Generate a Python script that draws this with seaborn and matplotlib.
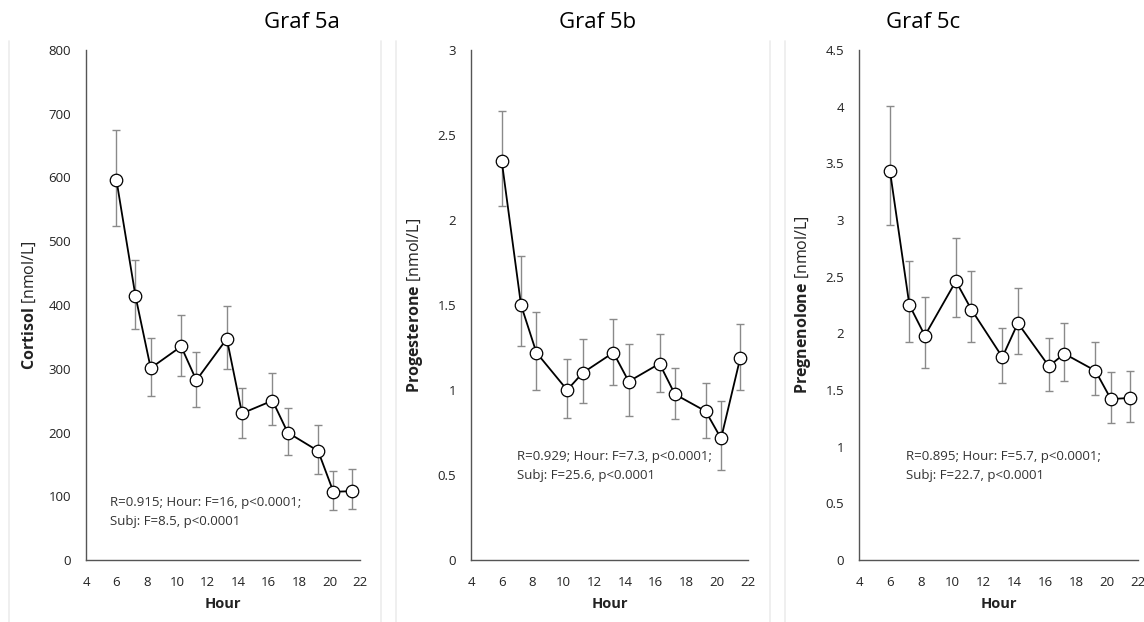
import numpy as np
import pandas as pd
import matplotlib
matplotlib.use("Agg")
import matplotlib.pyplot as plt
import seaborn as sns
from matplotlib.lines import Line2D

sns.set_theme(style="white")
plt.rcParams['font.family'] = ['Open Sans', 'DejaVu Sans']
plt.rcParams['mathtext.fontset'] = 'custom'
plt.rcParams['mathtext.rm'] = 'Open Sans'
plt.rcParams['mathtext.bf'] = 'Open Sans:bold'

# ---- data ----
hours = [6, 7.25, 8.25, 10.25, 11.25, 13.25, 14.25, 16.25, 17.25, 19.25, 20.25, 21.5]

cortisol = [596, 414, 301, 335, 282, 347, 230, 250, 200, 171, 107, 108]
cortisol_hi = [674, 470, 349, 385, 327, 398, 270, 293, 238, 212, 140, 142]
cortisol_lo = [524, 362, 258, 289, 240, 300, 192, 211, 165, 135, 79, 80]

progesterone = [2.345, 1.50, 1.22, 1.00, 1.10, 1.22, 1.05, 1.155, 0.975, 0.875, 0.715, 1.19]
progesterone_hi = [2.64, 1.79, 1.46, 1.18, 1.30, 1.42, 1.27, 1.33, 1.13, 1.04, 0.935, 1.39]
progesterone_lo = [2.08, 1.26, 1.00, 0.835, 0.925, 1.03, 0.85, 0.99, 0.83, 0.72, 0.53, 1.00]

pregnenolone = [3.43, 2.25, 1.98, 2.46, 2.21, 1.79, 2.09, 1.71, 1.82, 1.67, 1.42, 1.43]
pregnenolone_hi = [4.01, 2.64, 2.32, 2.84, 2.55, 2.05, 2.40, 1.96, 2.09, 1.92, 1.66, 1.67]
pregnenolone_lo = [2.96, 1.92, 1.69, 2.14, 1.92, 1.56, 1.82, 1.49, 1.58, 1.46, 1.21, 1.22]

titles = ["Graf 5a", "Graf 5b", "Graf 5c"]
hormones = ["Cortisol", "Progesterone", "Pregnenolone"]
stats_text = [
    "R=0.915; Hour: F=16, p<0.0001;\nSubj: F=8.5, p<0.0001",
    "R=0.929; Hour: F=7.3, p<0.0001;\nSubj: F=25.6, p<0.0001",
    "R=0.895; Hour: F=5.7, p<0.0001;\nSubj: F=22.7, p<0.0001",
]
y_max = [800, 3, 4.5]
y_step = [100, 0.5, 0.5]
x_ticks = [4, 6, 8, 10, 12, 14, 16, 18, 20, 22]

# ---- layout ----
W, H = 1144, 622
fig = plt.figure(figsize=(W / 100, H / 100), dpi=100)
fig.patch.set_facecolor("white")

def px_axes(l, r, t, b):
    return [l / W, 1 - b / H, (r - l) / W, (b - t) / H]

axes_px = [(86, 360, 50, 560), (471, 748, 50, 560), (859, 1138, 50, 560)]
title_x = [302, 598, 923]
text_pos = [(5.58, 76), (6.99, 0.553), (7.03, 0.83)]
ylabel_x = [-0.175, -0.166, -0.165]

# faint panel borders
for xp in [9, 381, 396, 770, 785]:
    fig.add_artist(Line2D([xp / W, xp / W], [0, 1 - 41 / H], color="#ececec", lw=1.2))

series = [(cortisol, cortisol_lo, cortisol_hi),
          (progesterone, progesterone_lo, progesterone_hi),
          (pregnenolone, pregnenolone_lo, pregnenolone_hi)]

spine_col = "#555555"
for i, (vals, lo, hi) in enumerate(series):
    ax = fig.add_axes(px_axes(*axes_px[i]))
    df = pd.DataFrame({"Hour": hours, "value": vals})
    vals_a = np.array(vals)
    yerr = np.vstack([vals_a - np.array(lo), np.array(hi) - vals_a])
    ax.errorbar(hours, vals, yerr=yerr, fmt="none", ecolor="#8a8a8a",
                elinewidth=1.0, capsize=2.8, capthick=1.0, zorder=1)
    sns.lineplot(data=df, x="Hour", y="value", ax=ax, color="black", lw=1.3,
                 marker="o", markersize=9, markerfacecolor="white",
                 markeredgecolor="black", markeredgewidth=0.9, zorder=3)
    ax.set_xlim(4, 22)
    ax.set_ylim(0, y_max[i])
    ax.set_xticks(x_ticks)
    ax.set_yticks(np.arange(0, y_max[i] + y_step[i] / 2, y_step[i]))
    ax.yaxis.set_major_formatter(matplotlib.ticker.FuncFormatter(lambda v, p: f"{v:g}"))
    for s in ["top", "right"]:
        ax.spines[s].set_visible(False)
    for s in ["left", "bottom"]:
        ax.spines[s].set_color(spine_col)
        ax.spines[s].set_linewidth(1.0)
    ax.tick_params(axis="both", direction="out", length=4.3, width=1.0,
                   color=spine_col, labelsize=9.5, labelcolor="#222222", pad=6.5)
    ax.tick_params(axis="x", pad=7)
    ax.set_xlabel("Hour", fontsize=10.5, fontweight="bold", color="#222222")
    ax.xaxis.set_label_coords(0.5, -0.072)
    ax.set_ylabel(r"$\bf{" + hormones[i] + r"}$ [nmol/L]", fontsize=11.5, color="#222222")
    ax.yaxis.set_label_coords(ylabel_x[i], 0.5)
    ax.set_facecolor("white")
    tx, ty = text_pos[i]
    ax.text(tx, ty, stats_text[i], fontsize=9.5, color="#333333", va="center",
            ha="left", linespacing=1.6)
    fig.text(title_x[i] / W, 1 - 22 / H, titles[i], fontsize=16, ha="center",
             va="center", color="black")

fig.savefig("out.png", dpi=100, facecolor="white")
